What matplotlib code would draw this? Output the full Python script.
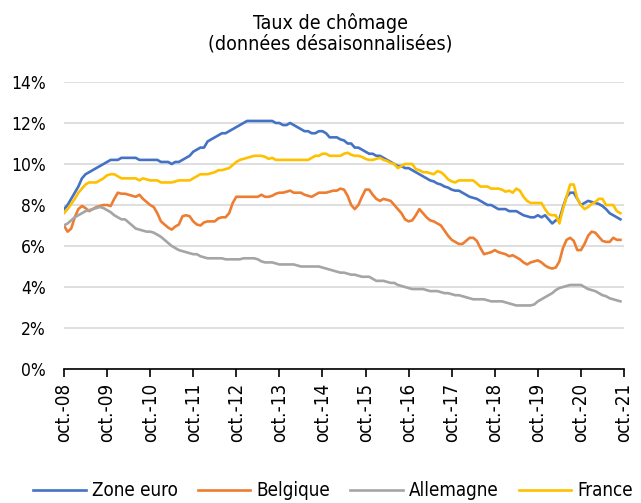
import matplotlib
matplotlib.use("Agg")
import matplotlib.pyplot as plt
import numpy as np

plt.rcParams['font.family'] = ['DejaVu Sans']
plt.rcParams['font.stretch'] = 'condensed'

tick_labels = ["oct.-%02d" % y for y in range(8, 22)]

zone_euro = [
    7.8, 8.0, 8.3, 8.6, 8.9, 9.3, 9.5, 9.6, 9.7, 9.8, 9.9, 10.0,
    10.1, 10.2, 10.2, 10.2, 10.3, 10.3, 10.3, 10.3, 10.3, 10.2, 10.2, 10.2,
    10.2, 10.2, 10.2, 10.1, 10.1, 10.1, 10.0, 10.1, 10.1, 10.2, 10.3, 10.4,
    10.6, 10.7, 10.8, 10.8, 11.1, 11.2, 11.3, 11.4, 11.5, 11.5, 11.6, 11.7,
    11.8, 11.9, 12.0, 12.1, 12.1, 12.1, 12.1, 12.1, 12.1, 12.1, 12.1, 12.0,
    12.0, 11.9, 11.9, 12.0, 11.9, 11.8, 11.7, 11.6, 11.6, 11.5, 11.5, 11.6,
    11.6, 11.5, 11.3, 11.3, 11.3, 11.2, 11.15, 11.0, 11.0, 10.8, 10.8, 10.7,
    10.6, 10.5, 10.5, 10.4, 10.4, 10.3, 10.2, 10.1, 10.0, 9.9, 9.9, 9.8,
    9.8, 9.7, 9.6, 9.5, 9.4, 9.3, 9.2, 9.15, 9.05, 9.0, 8.9, 8.85,
    8.75, 8.7, 8.7, 8.6, 8.5, 8.4, 8.35, 8.3, 8.2, 8.1, 8.0, 8.0,
    7.9, 7.8, 7.8, 7.8, 7.7, 7.7, 7.7, 7.6, 7.5, 7.45, 7.4, 7.4,
    7.5, 7.4, 7.5, 7.3, 7.1, 7.25, 7.3, 7.9, 8.4, 8.6, 8.6, 8.3,
    8.0, 8.1, 8.2, 8.15, 8.1, 8.05, 7.95, 7.8, 7.6, 7.5, 7.4, 7.3,
]

belgique = [
    7.0, 6.7, 6.85, 7.4, 7.8, 7.95, 7.85, 7.7, 7.8, 7.9, 7.95, 8.0,
    8.0, 7.95, 8.3, 8.6, 8.55, 8.55, 8.5, 8.45, 8.4, 8.5, 8.3, 8.15,
    8.0, 7.9, 7.6, 7.2, 7.05, 6.9, 6.8, 6.95, 7.05, 7.45, 7.5, 7.45,
    7.2, 7.05, 7.0, 7.15, 7.2, 7.2, 7.2, 7.35, 7.4, 7.4, 7.6, 8.1,
    8.4, 8.4, 8.4, 8.4, 8.4, 8.4, 8.4, 8.5, 8.4, 8.4, 8.45, 8.55,
    8.6, 8.6, 8.65, 8.7, 8.6, 8.6, 8.6, 8.5, 8.45, 8.4, 8.5, 8.6,
    8.6, 8.6, 8.65, 8.7, 8.7, 8.8, 8.75, 8.45, 8.0, 7.8, 8.0, 8.4,
    8.75, 8.75, 8.5, 8.3, 8.2, 8.3, 8.25, 8.2, 8.0, 7.8, 7.6, 7.3,
    7.2, 7.25, 7.5, 7.8, 7.6, 7.4, 7.25, 7.2, 7.1, 7.0, 6.75, 6.5,
    6.3, 6.2, 6.1, 6.1, 6.25, 6.4, 6.4, 6.25, 5.9, 5.6, 5.65, 5.7,
    5.8, 5.7, 5.65, 5.6, 5.5, 5.55, 5.45, 5.35, 5.2, 5.1, 5.2, 5.25,
    5.3, 5.2, 5.05, 4.95, 4.9, 4.95, 5.25, 5.9, 6.3, 6.4, 6.25, 5.8,
    5.8, 6.1, 6.5, 6.7, 6.65, 6.45, 6.25, 6.2, 6.2, 6.4, 6.3, 6.3,
]

allemagne = [
    7.0, 7.1, 7.25, 7.4, 7.5, 7.6, 7.7, 7.75, 7.8, 7.85, 7.9, 7.85,
    7.75, 7.65, 7.5, 7.4, 7.3, 7.3, 7.15, 7.0, 6.85, 6.8, 6.75, 6.7,
    6.7, 6.65, 6.55, 6.45, 6.3, 6.15, 6.0, 5.9, 5.8, 5.75, 5.7, 5.65,
    5.6, 5.6, 5.5, 5.45, 5.4, 5.4, 5.4, 5.4, 5.4, 5.35, 5.35, 5.35,
    5.35, 5.35, 5.4, 5.4, 5.4, 5.4, 5.35, 5.25, 5.2, 5.2, 5.2, 5.15,
    5.1, 5.1, 5.1, 5.1, 5.1, 5.05, 5.0, 5.0, 5.0, 5.0, 5.0, 5.0,
    4.95, 4.9, 4.85, 4.8, 4.75, 4.7, 4.7, 4.65, 4.6, 4.6, 4.55, 4.5,
    4.5, 4.5, 4.4, 4.3, 4.3, 4.3, 4.25, 4.2, 4.2, 4.1, 4.05, 4.0,
    3.95, 3.9, 3.9, 3.9, 3.9, 3.85, 3.8, 3.8, 3.8, 3.75, 3.7, 3.7,
    3.65, 3.6, 3.6, 3.55, 3.5, 3.45, 3.4, 3.4, 3.4, 3.4, 3.35, 3.3,
    3.3, 3.3, 3.3, 3.25, 3.2, 3.15, 3.1, 3.1, 3.1, 3.1, 3.1, 3.15,
    3.3, 3.4, 3.5, 3.6, 3.7, 3.85, 3.95, 4.0, 4.05, 4.1, 4.1, 4.1,
    4.1, 4.0, 3.9, 3.85, 3.8, 3.7, 3.6, 3.55, 3.45, 3.4, 3.35, 3.3,
]

france = [
    7.6, 7.8, 8.05, 8.3, 8.6, 8.8, 9.0, 9.1, 9.1, 9.1, 9.2, 9.3,
    9.45, 9.5, 9.5, 9.4, 9.3, 9.3, 9.3, 9.3, 9.3, 9.2, 9.3, 9.25,
    9.2, 9.2, 9.2, 9.1, 9.1, 9.1, 9.1, 9.15, 9.2, 9.2, 9.2, 9.2,
    9.3, 9.4, 9.5, 9.5, 9.5, 9.55, 9.6, 9.7, 9.7, 9.75, 9.8, 9.95,
    10.1, 10.2, 10.25, 10.3, 10.35, 10.4, 10.4, 10.4, 10.35, 10.25, 10.3, 10.2,
    10.2, 10.2, 10.2, 10.2, 10.2, 10.2, 10.2, 10.2, 10.2, 10.3, 10.4, 10.4,
    10.5, 10.5, 10.4, 10.4, 10.4, 10.4, 10.5, 10.55, 10.45, 10.4, 10.4, 10.35,
    10.25, 10.2, 10.2, 10.25, 10.3, 10.2, 10.15, 10.05, 10.0, 9.8, 9.9, 10.0,
    10.0, 10.0, 9.75, 9.7, 9.6, 9.6, 9.55, 9.5, 9.65, 9.6, 9.45, 9.25,
    9.15, 9.1, 9.2, 9.2, 9.2, 9.2, 9.2, 9.05, 8.9, 8.9, 8.9, 8.8,
    8.8, 8.8, 8.75, 8.65, 8.7, 8.6, 8.8, 8.7, 8.4, 8.2, 8.1, 8.1,
    8.1, 8.1, 7.8, 7.55, 7.5, 7.5, 7.1, 7.8, 8.4, 9.0, 9.0, 8.3,
    8.0, 7.8, 7.9, 8.05, 8.15, 8.3, 8.3, 8.0, 8.0, 8.0, 7.7, 7.6,
]

series = [
    ("Zone euro", zone_euro, "#4472C4"),
    ("Belgique", belgique, "#ED7D31"),
    ("Allemagne", allemagne, "#A5A5A5"),
    ("France", france, "#FFC000"),
]

fig = plt.figure(figsize=(6.41, 5.03), dpi=100)
ax = fig.add_axes([64 / 641, 1 - 369 / 503, 560 / 641, 287 / 503])

months = np.arange(len(zone_euro))
for name, vals, col in series:
    ax.plot(months, vals, color=col, lw=1.9, label=name, solid_joinstyle='round')

ax.set_ylim(0, 14)
ax.set_xlim(0, 156)
ax.set_yticks(np.arange(0, 15, 2))
ax.set_yticklabels(["%d%%" % v for v in range(0, 15, 2)], fontsize=12.5)
ax.set_xticks(np.arange(0, 157, 12))
ax.set_xticklabels(tick_labels, rotation=90, fontsize=13.5)
ax.yaxis.grid(True, color="#D9D9D9", lw=1.2)
ax.set_axisbelow(True)
for s in ["left", "right", "top"]:
    ax.spines[s].set_visible(False)
ax.spines["bottom"].set_color("black")
ax.spines["bottom"].set_linewidth(1.2)
ax.tick_params(axis="y", length=0, pad=13)
ax.tick_params(axis="x", direction="out", length=6, width=1.2, pad=4)

fig.text(0.515, 0.975, "Taux de chômage\n(données désaisonnalisées)",
         ha="center", va="top", fontsize=14, linespacing=1.15)

fig.legend(loc="center", bbox_to_anchor=(0.52, 0.024), ncol=4, frameon=False,
           fontsize=13.5, handlelength=2.8, handletextpad=0.35, columnspacing=1.05)

fig.savefig("out.png", dpi=100)
